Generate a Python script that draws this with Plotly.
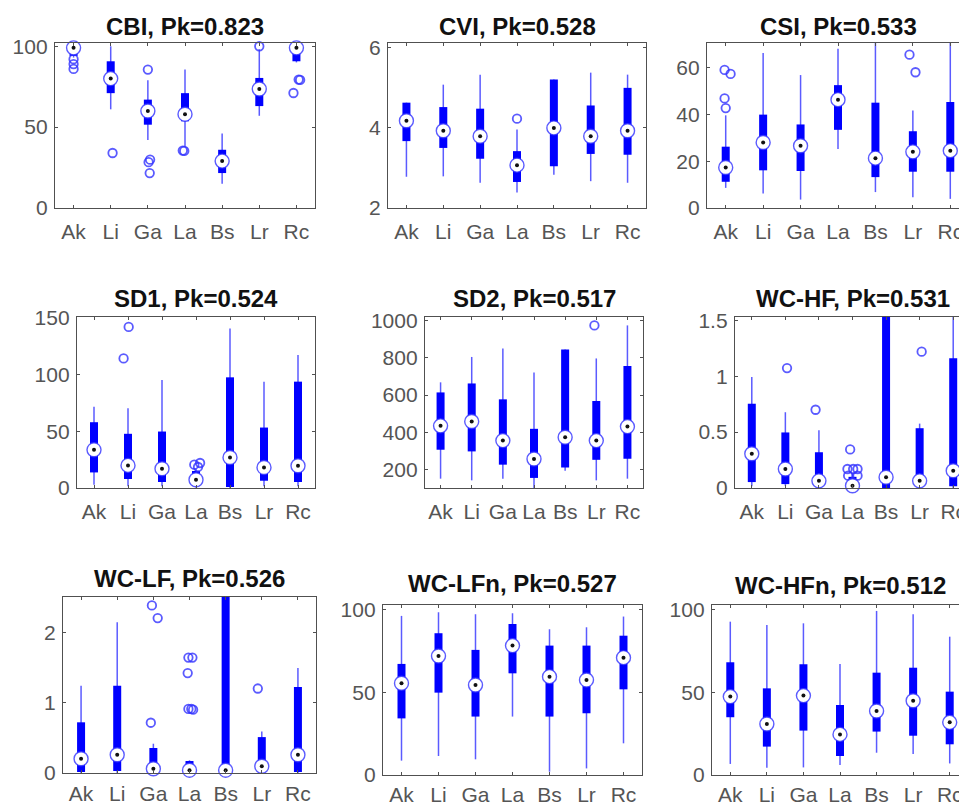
import plotly.graph_objects as go

W, H = 972, 808

categories = ["Ak", "Li", "Ga", "La", "Bs", "Lr", "Rc"]

titles = ["CBI, Pk=0.823", "CVI, Pk=0.528", "CSI, Pk=0.533",
          "SD1, Pk=0.524", "SD2, Pk=0.517", "WC-HF, Pk=0.531",
          "WC-LF, Pk=0.526", "WC-LFn, Pk=0.527", "WC-HFn, Pk=0.512"]

# ---- data (per panel: whisker low, q1, median, q3, whisker high, outliers) ----
cbi_lo = [93, 61, 42, 38, 15, 57, 90]
cbi_q1 = [94, 71, 51.5, 53.6, 21.6, 63, 90.7]
cbi_med = [99, 80, 60, 58, 29, 73.6, 99]
cbi_q3 = [100, 90.7, 67, 71, 36, 80.4, 100]
cbi_hi = [100, 100, 79, 85.6, 46, 98, 100]
cbi_out = [[92, 89, 86], [34], [85.6, 29.9, 28.3, 21.6], [35.5, 35.3], [], [100], [79.4, 79.2, 71.1]]

cvi_lo = [2.78, 2.79, 2.63, 2.39, 2.83, 2.67, 2.63]
cvi_q1 = [3.67, 3.5, 3.23, 2.65, 3.04, 3.35, 3.33]
cvi_med = [4.18, 3.93, 3.79, 3.07, 4.0, 3.79, 3.93]
cvi_q3 = [4.63, 4.52, 4.48, 3.42, 5.21, 4.56, 5.0]
cvi_hi = [4.63, 5.08, 5.33, 3.96, 5.21, 5.38, 5.33]
cvi_out = [[], [], [], [4.23], [], [], []]

csi_lo = [8.6, 6.2, 3.6, 25.2, 6.8, 4.6, 3.9]
csi_q1 = [11.2, 16.1, 15.8, 33.4, 13.2, 15.5, 15.5]
csi_med = [17.3, 28, 26.6, 46.3, 21.3, 24, 24.5]
csi_q3 = [26.2, 39.9, 35.7, 52.5, 45, 32.8, 45.3]
csi_hi = [39.6, 66.2, 56.8, 68, 75, 41.7, 75]
csi_out = [[59, 57.3, 46.8, 42.7], [], [], [], [], [65.5, 58], []]

sd1_lo = [2.9, 1.5, 1.5, 0.5, 0, 1.5, 1.5]
sd1_q1 = [13.7, 7.9, 5.3, 2, 0.9, 6.4, 5.3]
sd1_med = [33.6, 19.9, 17, 7.3, 26.9, 18.1, 19.6]
sd1_q3 = [57.9, 47.7, 49.7, 15, 97.4, 53.2, 93.6]
sd1_hi = [71.6, 70.2, 95, 17, 140.4, 93.6, 117]
sd1_out = [[], [114, 141.8], [], [22, 20.5, 18.5], [], [], []]

sd2_lo = [152, 143, 152, 102, 195, 143, 152]
sd2_q1 = [307, 298, 227, 156, 212, 253, 259]
sd2_med = [435, 458, 356, 257, 374, 356, 431]
sd2_q3 = [614, 662, 577, 419, 844, 568, 755]
sd2_hi = [668, 804, 849, 721, 844, 796, 973]
sd2_out = [[], [], [], [], [], [973], []]

wchf_lo = [0.015, 0.02, 0, 0, 0, 0, 0]
wchf_q1 = [0.053, 0.035, 0.015, 0.005, 0, 0.015, 0.015]
wchf_med = [0.307, 0.17, 0.064, 0.02, 0.096, 0.064, 0.155]
wchf_q3 = [0.754, 0.497, 0.32, 0.1, 1.7, 0.535, 1.16]
wchf_hi = [0.994, 0.678, 0.517, 0.13, 2.0, 0.576, 1.8]
wchf_out = [[], [1.073], [0.70], [0.17, 0.17, 0.17, 0.11, 0.11, 0.345], [], [1.22], []]

wclf_lo = [0, 0, 0, 0, 0, 0, 0]
wclf_q1 = [0.014, 0.03, 0, 0, 0, 0.01, 0.014]
wclf_med = [0.203, 0.26, 0.06, 0.04, 0.04, 0.095, 0.26]
wclf_q3 = [0.72, 1.24, 0.355, 0.17, 2.7, 0.51, 1.22]
wclf_hi = [1.24, 2.14, 0.416, 0.18, 3.0, 0.59, 1.49]
wclf_out = [[], [], [0.714, 2.38, 2.2], [1.64, 1.64, 1.42, 0.91, 0.91, 0.9], [], [1.2], []]

wclfn_lo = [8.7, 11.5, 9.5, 35.4, 2, 4, 19.2]
wclfn_q1 = [34.3, 49.9, 35.4, 61.6, 35.4, 37.4, 51.9]
wclfn_med = [55.6, 72.1, 54.5, 78.4, 59.6, 57.6, 71.1]
wclfn_q3 = [67.3, 85.9, 75.8, 91.5, 78.4, 78.4, 84.4]
wclfn_hi = [96.4, 98.6, 97.4, 98, 88.3, 89.5, 96]
wclfn_out = [[], [], [], [], [], [], []]

wchfn_lo = [6.7, 4.4, 4.6, 6, 13.5, 12.7, 7]
wchfn_q1 = [35, 17.2, 26.9, 11.5, 26.3, 23.8, 18.6]
wchfn_med = [47.5, 30.9, 48.1, 24.6, 38.8, 45, 31.9]
wchfn_q3 = [68.3, 52.5, 67.1, 42.4, 62, 65, 50.5]
wchfn_hi = [92.9, 90.9, 91.9, 67.3, 99.4, 97.4, 83.8]
wchfn_out = [[], [], [], [], [], [], []]

# ---- style: horizontal jitter of outlier markers (category units) ----
jitter = {
    0: [[0, 0, 0], [0.05], [0, 0.06, 0.02, 0.05], [-0.06, -0.02], [], [0], [0.06, 0.1, -0.08]],
    2: [[-0.03, 0.13, -0.03, 0], [], [], [], [], [-0.09, 0.07], []],
    3: [[], [-0.13, 0.02], [], [0.12, -0.05, 0.06], [], [], []],
    4: [[], [], [], [], [], [-0.06], []],
    5: [[], [0.05], [-0.1], [-0.15, 0.02, 0.15, -0.13, 0.15, -0.07], [], [0.06], []],
    6: [[], [], [-0.07, -0.04, 0.12], [-0.03, 0.08, -0.05, -0.03, 0.05, 0.1], [], [-0.11], []],
}

panels = [
    (cbi_lo, cbi_q1, cbi_med, cbi_q3, cbi_hi, cbi_out),
    (cvi_lo, cvi_q1, cvi_med, cvi_q3, cvi_hi, cvi_out),
    (csi_lo, csi_q1, csi_med, csi_q3, csi_hi, csi_out),
    (sd1_lo, sd1_q1, sd1_med, sd1_q3, sd1_hi, sd1_out),
    (sd2_lo, sd2_q1, sd2_med, sd2_q3, sd2_hi, sd2_out),
    (wchf_lo, wchf_q1, wchf_med, wchf_q3, wchf_hi, wchf_out),
    (wclf_lo, wclf_q1, wclf_med, wclf_q3, wclf_hi, wclf_out),
    (wclfn_lo, wclfn_q1, wclfn_med, wclfn_q3, wclfn_hi, wclfn_out),
    (wchfn_lo, wchfn_q1, wchfn_med, wchfn_q3, wchfn_hi, wchfn_out),
]

yranges = [[0, 102], [2, 6.12], [0, 70.5], [0, 150.5], [102, 1018], [0, 1.53],
           [0, 2.5], [0, 103], [0, 103]]
yticks = [[0, 50, 100], [2, 4, 6], [0, 20, 40, 60], [0, 50, 100, 150],
          [200, 400, 600, 800, 1000], [0, 0.5, 1, 1.5], [0, 1, 2], [0, 50, 100], [0, 50, 100]]

# pixel boxes (left, right, top, bottom) and title centre y
boxes = [(55, 315, 43, 208), (388, 646, 43, 208), (707, 969, 43, 208),
         (77, 315, 317, 488), (425, 643, 317, 488), (735, 970, 317, 488),
         (63, 316, 597, 773), (383, 642, 605, 775), (712, 968, 605, 775)]
title_y = [26, 26, 26, 298, 298, 298, 578, 583, 585]
xlabel_gap = [5, 5, 5, 5, 5, 5, 2, 1, 1]

BLUE = "#0000ff"
LIGHTBLUE = "rgba(50,50,255,0.8)"
AXC = "#505050"
FONT = "Liberation Sans, Arial, sans-serif"

fig = go.Figure()
annotations = []
layout_axes = {}

for k, (lo, q1, med, q3, hi, outs) in enumerate(panels):
    ax = "" if k == 0 else str(k + 1)
    xa, ya = "x" + ax, "y" + ax
    xs = list(range(1, len(categories) + 1))
    wx, wy, bx, by = [], [], [], []
    for i, x in enumerate(xs):
        wx += [x, x, None]
        wy += [lo[i], hi[i], None]
        bx += [x, x, None]
        by += [q1[i], q3[i], None]
    fig.add_trace(go.Scatter(x=wx, y=wy, mode="lines", xaxis=xa, yaxis=ya,
                             line=dict(color=LIGHTBLUE, width=1.5),
                             hoverinfo="skip", showlegend=False))
    fig.add_trace(go.Scatter(x=bx, y=by, mode="lines", xaxis=xa, yaxis=ya,
                             line=dict(color=BLUE, width=8),
                             hoverinfo="skip", showlegend=False))
    ox, oy = [], []
    jit = jitter.get(k)
    for i, vals in enumerate(outs):
        for j, v in enumerate(vals):
            dx = jit[i][j] if jit else 0
            ox.append(xs[i] + dx)
            oy.append(v)
    if ox:
        fig.add_trace(go.Scatter(x=ox, y=oy, mode="markers", xaxis=xa, yaxis=ya,
                                 marker=dict(symbol="circle-open", size=8.5,
                                             color=LIGHTBLUE, line=dict(width=1.8)),
                                 cliponaxis=False, showlegend=False))
    fig.add_trace(go.Scatter(x=xs, y=med, mode="markers", xaxis=xa, yaxis=ya,
                             marker=dict(symbol="circle", size=14, color="white",
                                         line=dict(color=LIGHTBLUE, width=1.4)),
                             cliponaxis=False, showlegend=False))
    fig.add_trace(go.Scatter(x=xs, y=med, mode="markers", xaxis=xa, yaxis=ya,
                             marker=dict(symbol="circle", size=4, color="#111111"),
                             cliponaxis=False, showlegend=False))

    l, r, t, b = boxes[k]
    layout_axes["xaxis" + ax] = dict(
        domain=[l / W, r / W], range=[0.5, 7.5], anchor=ya, automargin=False,
        tickmode="array", tickvals=xs, ticktext=categories,
        ticks="inside", ticklen=3, tickcolor=AXC, showline=True, linecolor=AXC,
        linewidth=1.3, mirror="ticks", showgrid=False, zeroline=False,
        ticklabelstandoff=xlabel_gap[k],
        tickfont=dict(family=FONT, size=21, color="#555555"), fixedrange=True)
    layout_axes["yaxis" + ax] = dict(
        domain=[1 - b / H, 1 - t / H], range=yranges[k], anchor=xa, automargin=False,
        tickmode="array", tickvals=yticks[k],
        ticktext=[("%g" % v) for v in yticks[k]],
        ticks="inside", ticklen=3, tickcolor=AXC, showline=True, linecolor=AXC,
        linewidth=1.3, mirror="ticks", ticklabelstandoff=2,
        showgrid=False, zeroline=False,
        tickfont=dict(family=FONT, size=21, color="#555555"), fixedrange=True)
    annotations.append(dict(text="<b>%s</b>" % titles[k], xref="paper", yref="paper",
                            x=((l + r) / 2) / W, y=1 - title_y[k] / H,
                            xanchor="center", yanchor="middle", showarrow=False,
                            font=dict(family=FONT, size=24, color="#111111")))

fig.update_layout(width=W, height=H, margin=dict(l=0, r=0, t=0, b=0, autoexpand=False),
                  paper_bgcolor="white", plot_bgcolor="white",
                  annotations=annotations, showlegend=False, **layout_axes)

fig.write_html("out.html", config={"displayModeBar": False, "responsive": False},
               post_script=(
                   "document.documentElement.style.overflow='hidden';"
                   "document.body.style.margin='0';document.body.style.overflow='hidden';"))
